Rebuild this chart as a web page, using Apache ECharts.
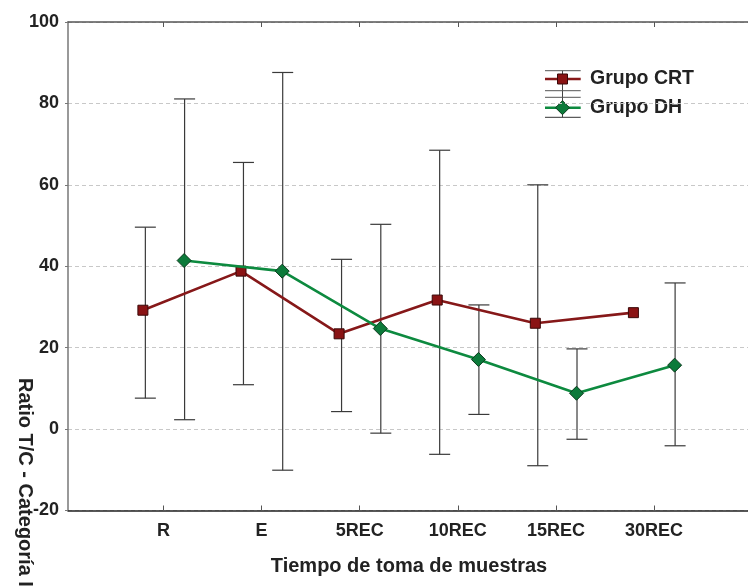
<!DOCTYPE html>
<html>
<head>
<meta charset="utf-8">
<script src="https://cdn.jsdelivr.net/npm/echarts@6/dist/echarts.min.js"></script>
<style>
html,body{margin:0;padding:0;background:#fff;}
#chart{width:748px;height:586px;}
</style>
</head>
<body>
<div id="chart"></div>
<script>
const categories = ['R', 'E', '5REC', '10REC', '15REC', '30REC'];
const yTicks = [-20, 0, 20, 40, 60, 80, 100];

const crtMean  = [29.2, 38.8, 23.4, 31.7, 26.0, 28.6];
const crtUpper = [49.6, 65.5, 41.7, 68.5, 60.0, null];
const crtLower = [7.6, 10.9, 4.3, -6.2, -9.0, null];

const dhMean  = [41.4, 38.8, 24.7, 17.1, 8.8, 15.7];
const dhUpper = [81.1, 87.6, 50.3, 30.5, 19.7, 35.9];
const dhLower = [2.3, -10.1, -1.0, 3.6, -2.5, -4.1];

const seriesNames = ['Grupo CRT', 'Grupo DH'];
const xTitle = 'Tiempo de toma de muestras';
const yTitle = 'Ratio T/C - Categoría I';

const CRT_OFF = -0.21, DH_OFF = 0.21;
const CRT_BAR_OFF = -0.185, DH_BAR_OFF = 0.215;
const X_MIN = 0.0265, X_MAX = 6.958;
const catPos = categories.map((c, i) => i + 1);

const crtColor = '#861819', crtFill = '#8a1314', crtBorder = '#3a0808';
const dhColor = '#0d8a3f', dhFill = '#0c7a3a', dhBorder = '#0a3a1c';

function pts(mean, off) { return mean.map((v, i) => [i + 1 + off, v]); }
function bars(lo, hi, off) {
  const out = [];
  lo.forEach((l, i) => { if (l != null && hi[i] != null) out.push([i + 1 + off, l, hi[i]]); });
  return out;
}

function errRender(params, api) {
  const x = api.value(0);
  const a = api.coord([x, api.value(2)]);
  const b = api.coord([x, api.value(1)]);
  const h = 10.5;
  const st = { stroke: '#3a3a3a', lineWidth: 1.2 };
  return {
    type: 'group',
    children: [
      { type: 'line', shape: { x1: a[0], y1: a[1], x2: b[0], y2: b[1] }, style: st },
      { type: 'line', shape: { x1: a[0] - h, y1: a[1], x2: a[0] + h, y2: a[1] }, style: st },
      { type: 'line', shape: { x1: b[0] - h, y1: b[1], x2: b[0] + h, y2: b[1] }, style: st }
    ]
  };
}

const fontFam = '"Liberation Sans", Arial, sans-serif';
const chart = echarts.init(document.getElementById('chart'), null, { renderer: 'canvas' });

const legendX = 545, legendMid = 562.5, legendTextX = 590;
const legendRows = [79, 107.7];

chart.setOption({
  animation: false,
  backgroundColor: '#fff',
  grid: { left: 68, top: 22, right: 0, bottom: 75.5, containLabel: false },
  xAxis: [{
    type: 'value', min: X_MIN, max: X_MAX,
    axisLine: { show: true, onZero: false, lineStyle: { color: '#222', width: 1.5 } },
    axisTick: { show: true, inside: true, length: 5, customValues: catPos, lineStyle: { color: '#555' } },
    axisLabel: {
      customValues: catPos,
      formatter: v => categories[Math.round(v) - 1] || '',
      fontFamily: fontFam, fontWeight: 'bold', fontSize: 18, color: '#222', margin: 12
    },
    splitLine: { show: false }
  }, {
    type: 'value', min: X_MIN, max: X_MAX, position: 'top',
    axisLine: { show: true, onZero: false, lineStyle: { color: '#555', width: 1.5 } },
    axisTick: { show: true, inside: true, length: 5, customValues: catPos, lineStyle: { color: '#555' } },
    axisLabel: { show: false },
    splitLine: { show: false }
  }],
  yAxis: {
    type: 'value', min: yTicks[0], max: yTicks[yTicks.length - 1], interval: 20,
    axisLine: { show: true, onZero: false, lineStyle: { color: '#777', width: 1.5 } },
    axisTick: { show: true, length: 3, lineStyle: { color: '#777' } },
    axisLabel: { fontFamily: fontFam, fontWeight: 'bold', fontSize: 18, color: '#222', margin: 9 },
    splitLine: { show: true, lineStyle: { color: '#c8c8c8', type: [4, 3], width: 1 } }
  },
  series: [
    { type: 'custom', name: 'errCRT', renderItem: errRender, data: bars(crtLower, crtUpper, CRT_BAR_OFF), z: 1, silent: true },
    { type: 'custom', name: 'errDH', renderItem: errRender, data: bars(dhLower, dhUpper, DH_BAR_OFF), z: 1, silent: true },
    {
      type: 'line', name: seriesNames[0], data: pts(crtMean, CRT_OFF), z: 3,
      lineStyle: { color: crtColor, width: 2.6 },
      symbol: 'rect', symbolSize: 10,
      itemStyle: { color: crtFill, borderColor: crtBorder, borderWidth: 1 }
    },
    {
      type: 'line', name: seriesNames[1], data: pts(dhMean, DH_OFF), z: 4,
      lineStyle: { color: dhColor, width: 2.6 },
      symbol: 'diamond', symbolSize: 14,
      itemStyle: { color: dhFill, borderColor: dhBorder, borderWidth: 1 }
    }
  ],
  graphic: [
    {
      type: 'text', x: 409, y: 566,
      style: { text: xTitle, font: 'bold 20px ' + fontFam, fill: '#222', textAlign: 'center', textVerticalAlign: 'middle' }
    },
    {
      type: 'text', x: 25, y: 378, rotation: -Math.PI / 2,
      style: { text: yTitle, font: 'bold 20px ' + fontFam, fill: '#222', textAlign: 'left', textVerticalAlign: 'middle' }
    },
    // legend glyphs
    { type: 'line', shape: { x1: legendMid, y1: 70.7, x2: legendMid, y2: 117.3 }, style: { stroke: '#444', lineWidth: 1 } },
    { type: 'line', shape: { x1: legendX, y1: 70.7, x2: 580.7, y2: 70.7 }, style: { stroke: '#555', lineWidth: 1 } },
    { type: 'line', shape: { x1: legendX, y1: 90.7, x2: 580.7, y2: 90.7 }, style: { stroke: '#555', lineWidth: 1 } },
    { type: 'line', shape: { x1: legendX, y1: 97.3, x2: 580.7, y2: 97.3 }, style: { stroke: '#555', lineWidth: 1 } },
    { type: 'line', shape: { x1: legendX, y1: 117.3, x2: 580.7, y2: 117.3 }, style: { stroke: '#333', lineWidth: 1 } },
    { type: 'line', shape: { x1: legendX, y1: legendRows[0], x2: 580.7, y2: legendRows[0] }, style: { stroke: crtColor, lineWidth: 2.6 } },
    { type: 'rect', shape: { x: legendMid - 5, y: legendRows[0] - 5, width: 10, height: 10 }, style: { fill: crtFill, stroke: crtBorder, lineWidth: 1 } },
    { type: 'line', shape: { x1: legendX, y1: legendRows[1], x2: 580.7, y2: legendRows[1] }, style: { stroke: dhColor, lineWidth: 2.6 } },
    { type: 'polygon', shape: { points: [[legendMid, legendRows[1] - 7], [legendMid + 7, legendRows[1]], [legendMid, legendRows[1] + 7], [legendMid - 7, legendRows[1]]] }, style: { fill: dhFill, stroke: dhBorder, lineWidth: 1 } },
    {
      type: 'text', x: legendTextX, y: legendRows[0],
      style: { text: seriesNames[0], font: 'bold 19.5px ' + fontFam, fill: '#222', textAlign: 'left', textVerticalAlign: 'middle' }
    },
    {
      type: 'text', x: legendTextX, y: legendRows[1],
      style: { text: seriesNames[1], font: 'bold 19.5px ' + fontFam, fill: '#222', textAlign: 'left', textVerticalAlign: 'middle' }
    }
  ]
});
</script>
</body>
</html>
